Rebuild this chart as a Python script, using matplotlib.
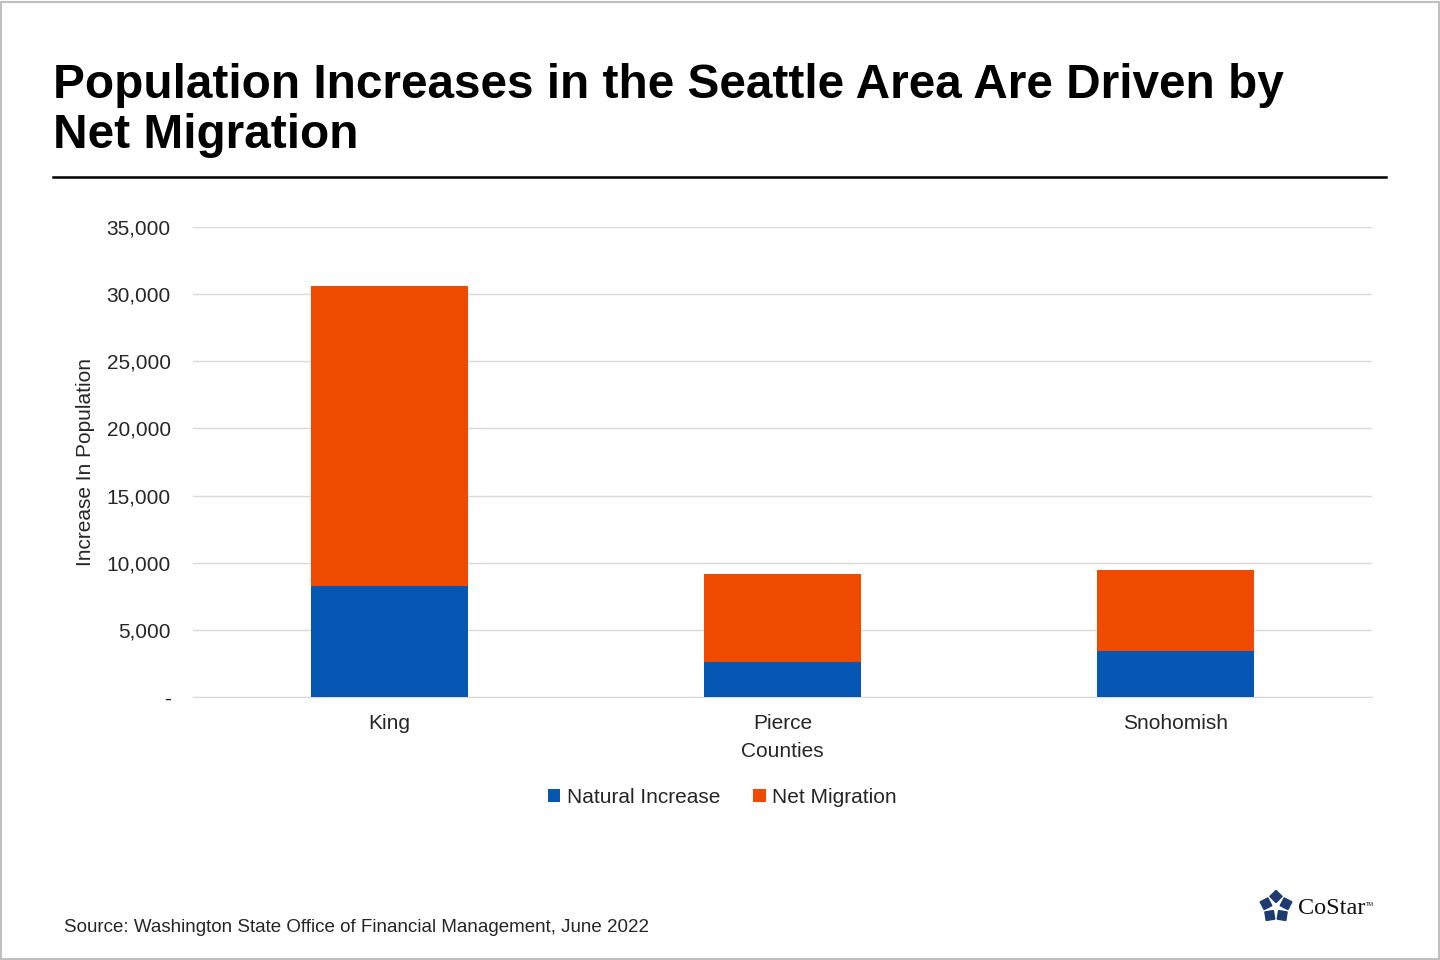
import matplotlib.pyplot as plt
import numpy as np
from matplotlib.patches import Rectangle, RegularPolygon

plt.rcParams['font.family'] = ['Liberation Sans', 'DejaVu Sans']

counties = ['King', 'Pierce', 'Snohomish']
natural_increase = [8270, 2600, 3420]
net_migration = [22340, 6560, 6040]

blue = '#0656B4'
orange = '#EE4B00'
txt = '#262626'

fig = plt.figure(figsize=(14.4, 9.6), dpi=100)
fig.patch.set_facecolor('white')

# light frame round the picture
fig.add_artist(Rectangle((0.001, 0.001), 0.998, 0.997, transform=fig.transFigure,
                         fill=False, edgecolor='#BFBFBF', linewidth=1.5))

fig.text(53/1440, 1 - 85/960, 'Population Increases in the Seattle Area Are Driven by',
         fontsize=34.4, fontweight='bold', va='center', ha='left')
fig.text(53/1440, 1 - 136/960, 'Net Migration',
         fontsize=34.4, fontweight='bold', va='center', ha='left')
fig.add_artist(plt.Line2D([53/1440, 1386/1440], [1 - 177/960, 1 - 177/960],
                          transform=fig.transFigure, color='black', linewidth=1.8))

ax = fig.add_axes([193/1440, 1 - 697/960, 1179/1440, 470/960])
x = np.arange(len(counties))
ax.bar(x, natural_increase, width=0.4, color=blue, label='Natural Increase', zorder=3)
ax.bar(x, net_migration, width=0.4, bottom=natural_increase, color=orange,
       label='Net Migration', zorder=3)

ax.set_xlim(-0.5, 2.5)
ax.set_ylim(0, 35000)
ax.set_yticks(range(0, 35001, 5000))
ax.set_yticklabels(['-'] + [f'{v:,}' for v in range(5000, 35001, 5000)])
ax.set_xticks(x)
ax.set_xticklabels(counties)
ax.tick_params(axis='both', length=0, labelsize=15, colors=txt)
ax.tick_params(axis='y', pad=16)
ax.tick_params(axis='x', pad=12.5)
ax.grid(axis='y', color='#D9D9D9', linewidth=1, zorder=0)
for s in ['top', 'right', 'left']:
    ax.spines[s].set_visible(False)
ax.spines['bottom'].set_color('#D9D9D9')

ax.set_xlabel('Counties', fontsize=15, color=txt, labelpad=6)
ax.set_ylabel('Increase In Population', fontsize=15, color=txt, labelpad=8)

ax.legend(loc='upper center', bbox_to_anchor=(0.449, -0.153), ncol=2, frameon=False,
          fontsize=15, handlelength=0.6, handleheight=0.6, handletextpad=0.3,
          columnspacing=1.6, labelcolor=txt)

fig.text(64/1440, 1 - 927/960,
         'Source: Washington State Office of Financial Management, June 2022',
         fontsize=13.5, va='center', ha='left', color=txt)

# CoStar logo, drawn roughly
logo = fig.add_axes([1259/1440, 1 - 924/960, 34/1440, 34/960])
logo.set_xlim(-1, 1)
logo.set_ylim(-1, 1)
logo.set_aspect('equal')
logo.axis('off')
for k in range(5):
    a = np.pi / 2 + k * 2 * np.pi / 5
    logo.add_patch(RegularPolygon((0.62 * np.cos(a), 0.62 * np.sin(a)), 4, radius=0.36,
                                  orientation=a, color='#1F3A6E'))
fig.text(1298/1440, 1 - 909/960, 'CoStar', fontsize=17.5, family='Liberation Serif',
         va='center', ha='left', color='#111111')
fig.text(1366/1440, 1 - 904/960, 'TM', fontsize=4, va='center', ha='left', color='#111111')

fig.savefig('out.png', dpi=100)
